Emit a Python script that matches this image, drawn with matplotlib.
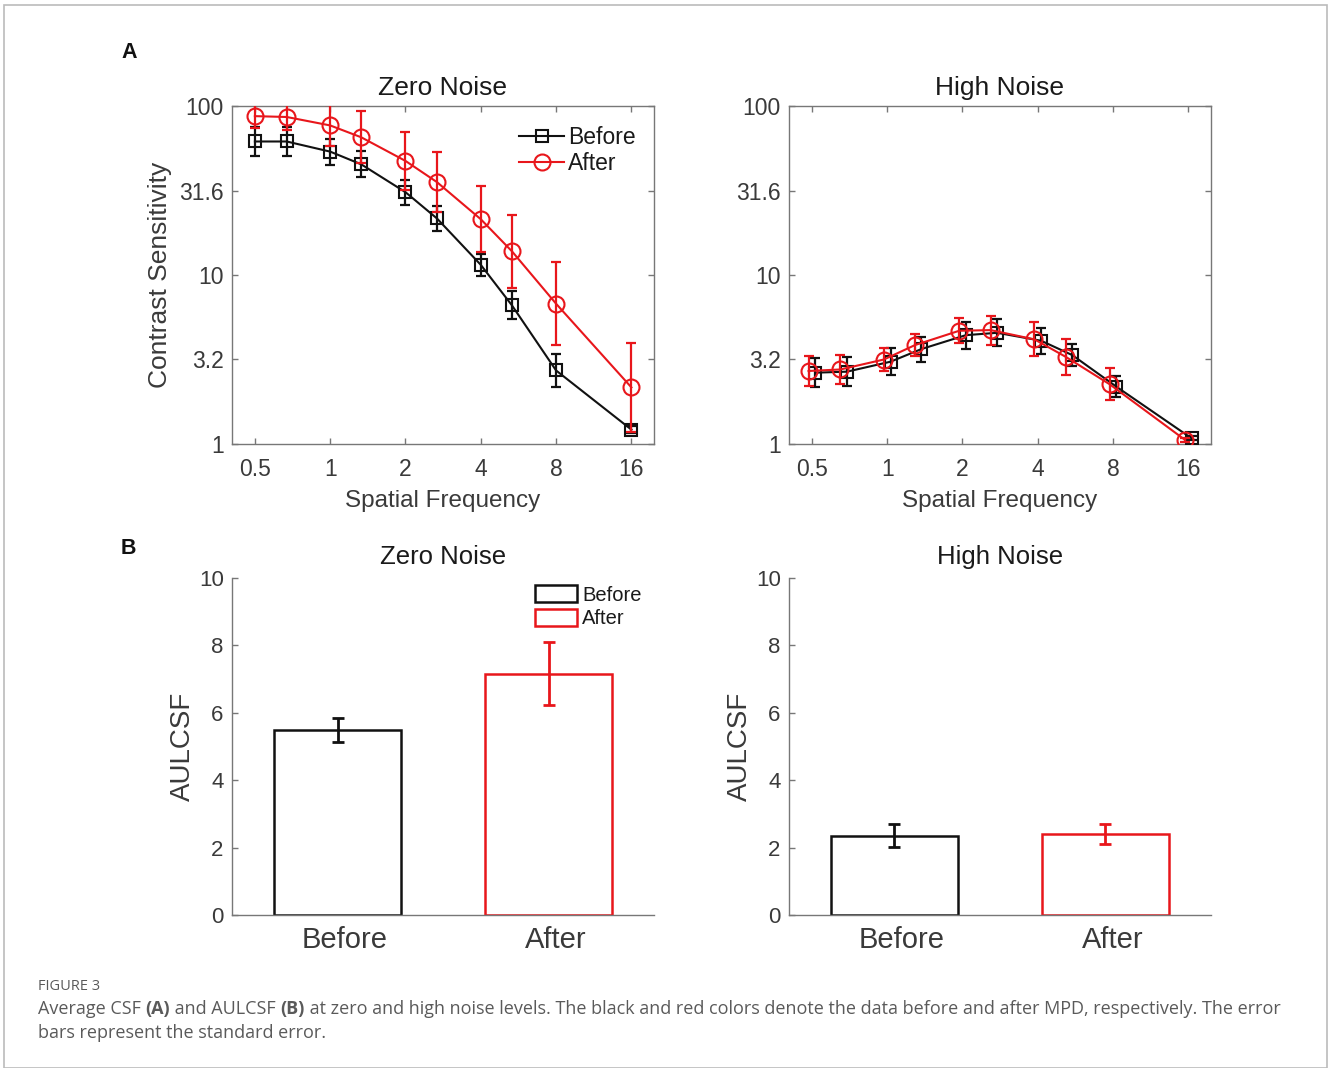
import matplotlib
matplotlib.use("Agg")
import matplotlib.pyplot as plt
import matplotlib.transforms as mtransforms
import numpy as np
from matplotlib.patches import Patch, Rectangle

# --- data (log10 contrast sensitivity, SE in log units) ---
freq = [0.5, 0.67, 1, 1.33, 2, 2.67, 4, 5.33, 8, 16]
freq_ticks = [0.5, 1, 2, 4, 8, 16]
freq_tick_labels = ["0.5", "1", "2", "4", "8", "16"]
cs_ticks = [1, 3.2, 10, 31.6, 100]
cs_tick_labels = ["1", "3.2", "10", "31.6", "100"]

zero_before_log = [1.79, 1.79, 1.73, 1.655, 1.49, 1.335, 1.06, 0.82, 0.435, 0.085]
zero_before_se = [0.084, 0.084, 0.077, 0.077, 0.074, 0.074, 0.065, 0.083, 0.10, 0.02]
zero_after_log = [1.94, 1.935, 1.885, 1.815, 1.675, 1.55, 1.33, 1.14, 0.83, 0.335]
zero_after_se = [0.07, 0.075, 0.12, 0.154, 0.171, 0.177, 0.196, 0.215, 0.244, 0.262]

high_before_log = [0.422, 0.428, 0.487, 0.562, 0.644, 0.658, 0.611, 0.526, 0.339, 0.033]
high_before_se = [0.085, 0.087, 0.081, 0.074, 0.08, 0.081, 0.077, 0.066, 0.062, 0.012]
high_after_log = [0.432, 0.441, 0.500, 0.585, 0.670, 0.674, 0.619, 0.516, 0.353, 0.024]
high_after_se = [0.087, 0.087, 0.071, 0.064, 0.073, 0.086, 0.10, 0.108, 0.094, 0.01]

groups = ["Before", "After"]
aulcsf_zero = [5.49, 7.16]
aulcsf_zero_se = [0.35, 0.94]
aulcsf_high = [2.35, 2.41]
aulcsf_high_se = [0.34, 0.30]

BLACK = "#111111"
RED = "#e8161b"
AXC = "#777777"
TXT = "#3a3a3a"

plt.rcParams["font.family"] = ["Liberation Sans", "DejaVu Sans"]

W, H = 1328, 1068
fig = plt.figure(figsize=(W / 100, H / 100), dpi=100)


def px_axes(x0, y0, x1, y1):
    return fig.add_axes([x0 / W, 1 - y1 / H, (x1 - x0) / W, (y1 - y0) / H])


def style_common(ax):
    for s in ax.spines.values():
        s.set_color(AXC)
        s.set_linewidth(1.0)
    ax.tick_params(direction="in", colors=AXC, labelcolor=TXT, labelsize=16.5,
                   length=4, width=1.0)


def csf_panel(ax, title, b_log, b_se, a_log, a_se, shift, ylabel):
    b_x = np.array(freq) * shift
    a_x = np.array(freq) / shift
    b_y = 10 ** np.array(b_log)
    a_y = 10 ** np.array(a_log)
    b_err = [b_y - 10 ** (np.array(b_log) - b_se), 10 ** (np.array(b_log) + b_se) - b_y]
    a_err = [a_y - 10 ** (np.array(a_log) - a_se), 10 ** (np.array(a_log) + a_se) - a_y]

    ax.errorbar(b_x, b_y, yerr=b_err, fmt="none", ecolor=BLACK, elinewidth=1.6,
                capsize=3.5, capthick=1.6, zorder=2)
    ax.plot(b_x, b_y, "-s", color=BLACK, lw=1.5, ms=9, mfc="none", mew=1.5,
            label="Before", zorder=3)
    ax.errorbar(a_x, a_y, yerr=a_err, fmt="none", ecolor=RED, elinewidth=1.6,
                capsize=3.5, capthick=1.6, zorder=4)
    ax.plot(a_x, a_y, "-o", color=RED, lw=1.5, ms=11.5, mfc="none", mew=1.5,
            label="After", zorder=5)

    ax.set_xscale("log")
    ax.set_yscale("log")
    ax.set_xlim(0.405, 19.7)
    ax.set_ylim(1, 100)
    ax.set_xticks(freq_ticks)
    ax.set_xticklabels(freq_tick_labels)
    ax.set_yticks(cs_ticks)
    ax.set_yticklabels(cs_tick_labels)
    ax.minorticks_off()
    style_common(ax)
    ax.tick_params(top=True, right=True)
    ax.tick_params(axis="x", pad=10)
    ax.tick_params(axis="y", pad=6)
    ax.set_title(title, fontsize=19, color="#1a1a1a", pad=8)
    ax.set_xlabel("Spatial Frequency", fontsize=17.5, color=TXT)
    ax.xaxis.set_label_coords(0.5, -0.137)
    if ylabel:
        ax.set_ylabel("Contrast Sensitivity", fontsize=19, color=TXT)
        ax.yaxis.set_label_coords(-0.142, 0.5)


def bar_panel(ax, title, vals, se, legend):
    pos = np.arange(1, len(groups) + 1)
    cols = [BLACK, RED]
    ax.bar(pos, vals, width=0.6, facecolor="white", edgecolor=cols, linewidth=1.8,
           zorder=2)
    for p, v, e, c in zip(pos, vals, se, cols):
        ax.errorbar(p, v, yerr=e, fmt="none", ecolor=c, elinewidth=2.0, capsize=4,
                    capthick=2.0, zorder=3)
    ax.set_xlim(0.5, 2.5)
    ax.set_ylim(0, 10)
    ax.set_yticks(range(0, 11, 2))
    ax.set_xticks(pos)
    ax.set_xticklabels(groups)
    ax.spines["top"].set_visible(False)
    ax.spines["right"].set_visible(False)
    style_common(ax)
    ax.tick_params(axis="y", pad=6, labelsize=16)
    ax.tick_params(axis="x", length=0, labelsize=21, pad=8)
    # category labels sit slightly right of the bar centres in the original
    off = mtransforms.ScaledTranslation(7 / 100, 0, fig.dpi_scale_trans)
    for lab in ax.get_xticklabels():
        lab.set_transform(lab.get_transform() + off)
    ax.set_title(title, fontsize=18.5, color="#1a1a1a", pad=10)
    ax.set_ylabel("AULCSF", fontsize=20, color=TXT)
    ax.yaxis.set_label_coords(-0.085, 0.5)
    if legend:
        handles = [Patch(facecolor="white", edgecolor=BLACK, linewidth=1.8),
                   Patch(facecolor="white", edgecolor=RED, linewidth=1.8)]
        ax.legend(handles, groups, loc="upper right", bbox_to_anchor=(1.0, 1.015),
                  frameon=False, fontsize=14.5, handlelength=2.1, handleheight=0.95,
                  handletextpad=0.25, labelspacing=0.2, borderaxespad=0.2,
                  labelcolor="#1a1a1a")


ax1 = px_axes(232, 106, 654, 444)
csf_panel(ax1, "Zero Noise", zero_before_log, zero_before_se, zero_after_log,
          zero_after_se, 1.0, True)
ax1.legend(loc="upper right", bbox_to_anchor=(1.005, 1.002), frameon=False, fontsize=16.5,
           handlelength=2.0, handletextpad=0.15, labelspacing=0.15,
           labelcolor="#1a1a1a")

ax2 = px_axes(789, 106, 1211, 444)
csf_panel(ax2, "High Noise", high_before_log, high_before_se, high_after_log,
          high_after_se, 1.031, False)

ax3 = px_axes(232, 578, 654, 915)
bar_panel(ax3, "Zero Noise", aulcsf_zero, aulcsf_zero_se, True)

ax4 = px_axes(789, 578, 1211, 915)
bar_panel(ax4, "High Noise", aulcsf_high, aulcsf_high_se, False)

# panel letters
fig.text(121 / W, 1 - 53 / H, "A", fontsize=15.5, fontweight="bold", va="center",
         color="#111111")
fig.text(121 / W, 1 - 548 / H, "B", fontsize=15.5, fontweight="bold", va="center",
         color="#111111")

# page frame
fig.add_artist(Rectangle((4 / W, 0), (1327 - 4) / W, 1 - 5 / H, transform=fig.transFigure,
                         fill=False, edgecolor="#bbbbbb", linewidth=1.2))

# caption
CAP = "#5a5a5a"
cap_font = ["Open Sans", "DejaVu Sans"]
fig.text(38 / W, 1 - 986 / H, "FIGURE 3", fontsize=10.5, color=CAP, va="center",
         family=cap_font)

renderer = fig.canvas.get_renderer()
line1 = [("Average CSF ", "normal"), ("(A)", "bold"), (" and AULCSF ", "normal"),
         ("(B)", "bold"),
         (" at zero and high noise levels. The black and red colors denote the data "
          "before and after MPD, respectively. The error", "normal")]
cap_size = 12.0
# fit the first caption line to its width in the picture
probe = fig.text(0, 0, "".join(t for t, _ in line1), fontsize=cap_size, family=cap_font)
wpx = probe.get_window_extent(renderer).width
probe.remove()
cap_size = cap_size * 1236 / wpx

x = 38
for txt, wt in line1:
    t = fig.text(x / W, 1 - 1009 / H, txt, fontsize=cap_size, fontweight=wt, color=CAP,
                 va="center", family=cap_font)
    x += t.get_window_extent(renderer).width
fig.text(38 / W, 1 - 1033 / H, "bars represent the standard error.", fontsize=cap_size,
         color=CAP, va="center", family=cap_font)

fig.savefig("out.png", dpi=100, facecolor="white")
